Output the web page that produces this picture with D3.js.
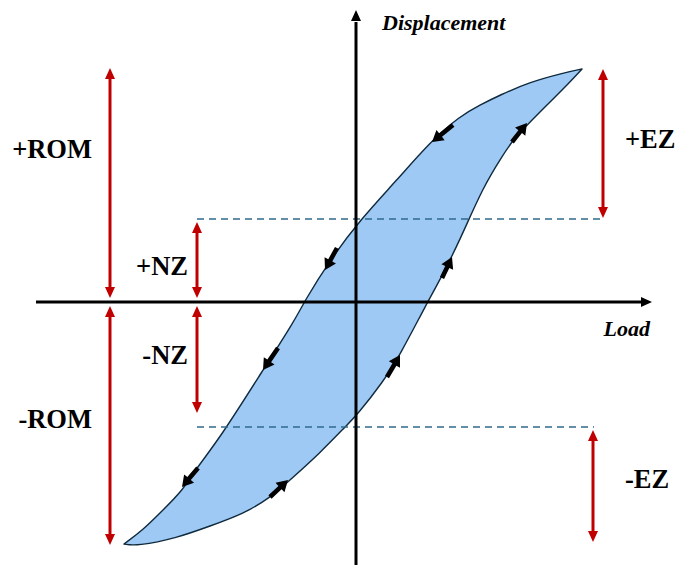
<!DOCTYPE html>
<html>
<head>
<meta charset="utf-8">
<script src="https://cdn.jsdelivr.net/npm/d3@7"></script>
<style>
  html, body { margin: 0; padding: 0; background: #fff; }
  svg { display: block; }
  text { font-family: "Liberation Serif", "Times New Roman", "DejaVu Serif", serif; font-weight: bold; }
</style>
</head>
<body>
<svg id="chart" width="676" height="565"></svg>
<script>
// ---------- data (load / displacement units, origin at axis crossing) ----------
// Loading-down (upper/left) branch: from +ROM tip to -ROM tip
const upperBranch = [
  [5.65, 5.825], [5.175, 5.725], [4.35, 5.5], [3.6, 5.175], [3.1, 4.925],
  [2.6, 4.65], [1.85, 4.0], [1.025, 3.05], [0.1, 2.05], [-0.65, 1.05],
  [-1.3, 0.0], [-1.525, -0.45], [-2.325, -1.7], [-3.4, -3.4], [-4.025, -4.2],
  [-4.325, -4.7], [-4.825, -5.2], [-5.325, -5.7], [-5.8, -6.05]
];
// Loading-up (lower/right) branch: from -ROM tip back to +ROM tip
const lowerBranch = [
  [-5.8, -6.05], [-5.475, -6.1], [-4.475, -5.9], [-3.65, -5.6], [-2.825, -5.3],
  [-2.15, -4.9], [-1.65, -4.45], [-0.9, -3.775], [-0.275, -3.125], [0.025, -2.825],
  [0.675, -2.0], [1.1, -1.325], [1.775, -0.025], [2.1, 0.55], [2.6, 1.55],
  [3.175, 2.875], [3.675, 3.675], [3.925, 4.05], [4.275, 4.425], [4.775, 4.925],
  [5.35, 5.5], [5.65, 5.825]
];
// direction arrows on the loop: [tailX, tailY, tipX, tipY]
const loopArrows = [
  [2.425, 4.425, 1.9, 4.0],
  [-0.475, 1.35, -0.775, 0.8],
  [-1.95, -1.15, -2.325, -1.7],
  [-3.95, -4.15, -4.35, -4.625],
  [-2.15, -4.875, -1.7, -4.45],
  [0.775, -1.875, 1.1, -1.325],
  [2.15, 0.6, 2.4, 1.125],
  [3.9, 4.0, 4.275, 4.475]
];
// range labels
const zoneNames = ["+ROM", "-ROM", "+NZ", "-NZ", "+EZ", "-EZ"];
const zoneX     = [-6.15, -6.15, -3.975, -3.975, 6.175, 5.925];
const zoneFrom  = [0.1, -0.1, 0.1, -0.1, 2.1, -3.2];
const zoneTo    = [5.85, -6.075, 2.0, -2.775, 5.825, -6.0];
const zoneLabelX = [-6.6, -6.6, -4.2, -4.2, 6.725, 6.725];
const zoneLabelY = [3.6, -3.15, 0.675, -1.55, 3.85, -4.65];
const zoneAnchor = ["end", "end", "end", "end", "start", "start"];
// dashed limits of neutral zone
const nzLimits = [2.075, -3.125];
const nzLimitFrom = [-3.975, -3.975];
const nzLimitTo = [6.175, 5.95];
// axes
const axisLabels = ["Load", "Displacement"];

// ---------- scales ----------
const x = d3.scaleLinear().domain([-8, 8]).range([36, 676]);
const y = d3.scaleLinear().domain([-8, 8]).range([622, -18]);

const svg = d3.select("#chart");
const FONT = '"Liberation Serif", "Times New Roman", "DejaVu Serif", serif';

// ---------- loop ----------
const line = d3.line().x(d => x(d[0])).y(d => y(d[1])).curve(d3.curveBasis);
const loopPath = line(upperBranch) + line(lowerBranch).replace(/^M/, "L") + "Z";
svg.append("path")
  .attr("d", loopPath)
  .attr("fill", "#9ec9f5")
  .attr("stroke", "#0f2a3d")
  .attr("stroke-width", 1.4)
  .attr("stroke-linejoin", "round");

// ---------- dashed neutral-zone limits ----------
nzLimits.forEach((v, i) => {
  svg.append("line")
    .attr("x1", x(nzLimitFrom[i])).attr("x2", x(nzLimitTo[i]))
    .attr("y1", y(v)).attr("y2", y(v))
    .attr("stroke", "#2f6a8c").attr("stroke-width", 1.4)
    .attr("stroke-dasharray", "7,5");
});

// ---------- axes ----------
const axisG = svg.append("g");
axisG.append("line")
  .attr("x1", x(-8)).attr("x2", x(7.15))
  .attr("y1", y(0)).attr("y2", y(0))
  .attr("stroke", "#000").attr("stroke-width", 3);
axisG.append("path")
  .attr("d", `M${x(7.4)},${y(0)} L${x(7.4) - 11},${y(0) - 5} L${x(7.4) - 11},${y(0) + 5}Z`)
  .attr("fill", "#000");
axisG.append("line")
  .attr("x1", x(0)).attr("x2", x(0))
  .attr("y1", y(-6.6)).attr("y2", y(7.0))
  .attr("stroke", "#000").attr("stroke-width", 3);
axisG.append("path")
  .attr("d", `M${x(0)},${y(7.3)} L${x(0) - 5},${y(7.3) + 11} L${x(0) + 5},${y(7.3) + 11}Z`)
  .attr("fill", "#000");

svg.append("text")
  .attr("x", x(7.35)).attr("y", y(-0.85))
  .attr("text-anchor", "end")
  .style("font-family", FONT)
  .style("font-weight", "bold").style("font-style", "italic")
  .style("font-size", "22px")
  .text(axisLabels[0]);
svg.append("text")
  .attr("x", x(0.65)).attr("y", y(6.8))
  .attr("text-anchor", "start")
  .style("font-family", FONT)
  .style("font-weight", "bold").style("font-style", "italic")
  .style("font-size", "22px")
  .text(axisLabels[1]);

// ---------- red double arrows ----------
function dblArrow(px, p1, p2, color) {
  const g = svg.append("g");
  const dir = p2 > p1 ? 1 : -1;
  const hl = 11, hw = 5;
  g.append("line")
    .attr("x1", px).attr("x2", px)
    .attr("y1", p1 + dir * (hl - 2)).attr("y2", p2 - dir * (hl - 2))
    .attr("stroke", color).attr("stroke-width", 3);
  g.append("path")
    .attr("d", `M${px},${p1} L${px - hw},${p1 + dir * hl} L${px + hw},${p1 + dir * hl}Z`)
    .attr("fill", color);
  g.append("path")
    .attr("d", `M${px},${p2} L${px - hw},${p2 - dir * hl} L${px + hw},${p2 - dir * hl}Z`)
    .attr("fill", color);
}
zoneNames.forEach((name, i) => {
  dblArrow(x(zoneX[i]), y(zoneFrom[i]), y(zoneTo[i]), "#c00000");
  svg.append("text")
    .attr("x", x(zoneLabelX[i])).attr("y", y(zoneLabelY[i]))
    .attr("text-anchor", zoneAnchor[i])
    .style("font-family", FONT)
    .style("font-weight", "bold")
    .style("font-size", "26.5px")
    .attr("fill", "#000")
    .text(name);
});

// ---------- direction arrows on loop ----------
loopArrows.forEach(a => {
  const x1 = x(a[0]), y1 = y(a[1]), x2 = x(a[2]), y2 = y(a[3]);
  const dx = x2 - x1, dy = y2 - y1, len = Math.hypot(dx, dy);
  const ux = dx / len, uy = dy / len, nx = -uy, ny = ux;
  const hl = 11, hw = 6.5, sw = 2.3;
  const bx = x2 - ux * hl, by = y2 - uy * hl;
  const pts = [
    [x1 + nx * sw, y1 + ny * sw],
    [bx + nx * sw, by + ny * sw],
    [bx + nx * hw, by + ny * hw],
    [x2, y2],
    [bx - nx * hw, by - ny * hw],
    [bx - nx * sw, by - ny * sw],
    [x1 - nx * sw, y1 - ny * sw]
  ];
  svg.append("path")
    .attr("d", "M" + pts.map(p => p.join(",")).join("L") + "Z")
    .attr("fill", "#000");
});
</script>
</body>
</html>
